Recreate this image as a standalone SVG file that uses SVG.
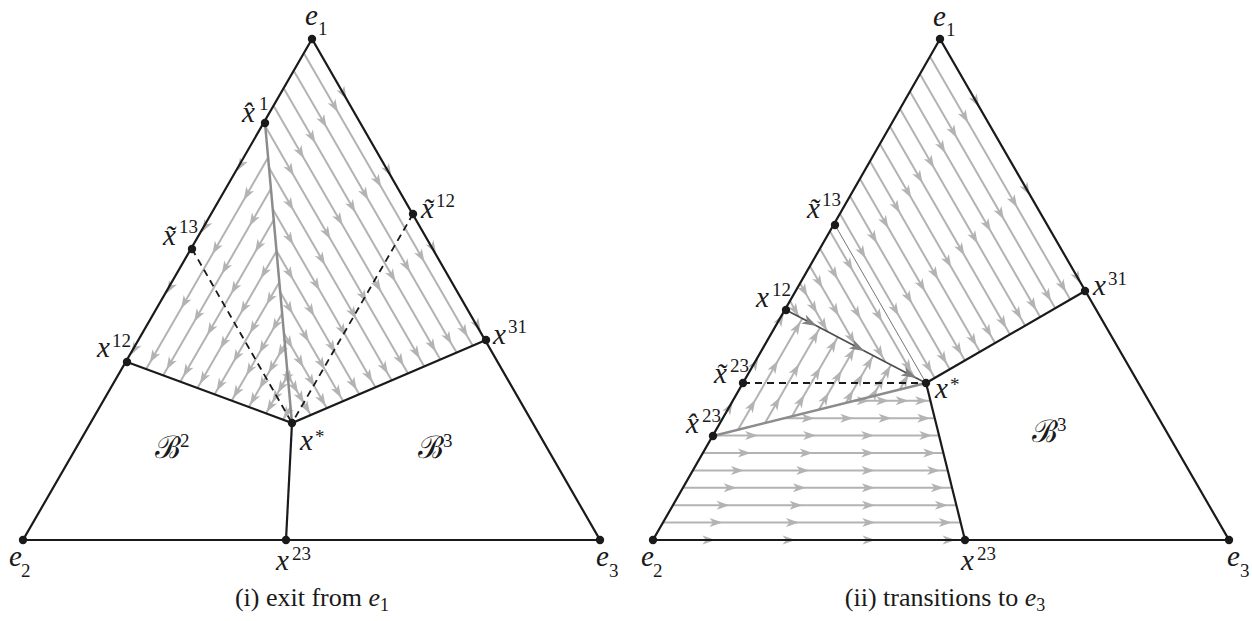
<svg xmlns="http://www.w3.org/2000/svg" width="1252" height="621" viewBox="0 0 1252 621">
<style>
.f{fill:none;stroke:#b3b3b3;stroke-width:2;marker-mid:url(#ga)}
.fe{fill:none;stroke:none;marker-mid:url(#ga)}
.k{fill:none;stroke:#1a1a1a;stroke-width:2.2;stroke-linejoin:miter}
.g{fill:none;stroke:#8c8c8c;stroke-width:2.5}
.d{fill:none;stroke:#1a1a1a;stroke-width:1.8;stroke-dasharray:7 5}
.t{fill:none;stroke:#666;stroke-width:0.9}
.dot{fill:#1a1a1a}
text{font-family:"Liberation Serif","Times New Roman",serif;fill:#1a1a1a}
.m{font-size:29px;font-style:italic}
.s{font-size:19px}
.cap{font-size:26px}
.cal{font-family:"DejaVu Serif",serif;font-size:31px;font-style:normal}
</style>
<defs>
<marker id="ga" viewBox="-14 -6 16 12" markerWidth="16" markerHeight="12" refX="0" refY="0" orient="auto" markerUnits="userSpaceOnUse"><path d="M0,0 L-13,-4.5 L-9.5,0 L-13,4.5 Z" fill="#b3b3b3"/></marker>
<marker id="da" viewBox="-16 -7 18 14" markerWidth="18" markerHeight="14" refX="0" refY="0" orient="auto" markerUnits="userSpaceOnUse"><path d="M0,0 L-15,-5 L-11,0 L-15,5 Z" fill="#808080"/></marker>
</defs>

<g id="flows-left">
<polyline class="fe" points="312,39 346.8,99.2 391.5,176.6 436.1,253.6 480.8,331 486,340"/>
<polyline class="f" points="304.3,53.9 338.0,112.3 381.3,187.3 424.4,261.9 467.7,336.9 472.8,345.7"/>
<polyline class="f" points="294.2,71.4 326.7,127.6 368.4,199.9 410.0,271.9 451.7,344.2 456.6,352.6"/>
<polyline class="f" points="284.1,88.9 315.4,143.0 355.5,212.6 395.5,281.8 435.7,351.4 440.4,359.5"/>
<polyline class="f" points="274,106.4 304.0,158.4 342.6,225.2 381.1,291.8 419.7,358.6 424.2,366.4"/>
<polyline class="f" points="265.3,126.3 293.8,175.7 330.5,239.2 367.0,302.5 403.7,366.0 408,373.4"/>
<polyline class="f" points="269,167.7 293.5,210.2 325.1,264.9 356.5,319.3 388.0,373.9 391.7,380.3"/>
<polyline class="f" points="272.8,209.2 293.3,244.8 319.7,290.6 346.0,336.2 372.4,381.9 375.5,387.3"/>
<polyline class="f" points="276.5,250.7 293.1,279.4 314.3,316.3 335.5,353.0 356.8,389.9 359.3,394.2"/>
<polyline class="f" points="280.2,292.1 292.8,313.9 308.9,341.9 325.0,369.8 341.2,397.8 343.1,401.1"/>
<polyline class="f" points="284,333.6 292.6,348.5 303.6,367.6 314.6,386.7 325.6,405.9 326.9,408.1"/>
<polyline class="f" points="287.7,375 292.3,383 298.2,393.3 304.1,403.5 310,413.8 310.7,415"/>
<polyline class="fe" points="265,123 237.4,170.8 201.9,232.2 166.6,293.4 131.1,354.8 127,362"/>
<polyline class="f" points="268.1,157.6 243.7,199.9 212.3,254.3 181.1,308.4 149.8,362.8 146.1,369.1"/>
<polyline class="f" points="270.9,188.8 249.4,226.1 221.7,274.1 194.1,321.8 166.4,369.8 163.2,375.4"/>
<polyline class="f" points="273.7,220 255.0,252.3 231.0,293.9 207.1,335.3 183.1,376.8 180.3,381.7"/>
<polyline class="f" points="276.5,251.2 260.7,278.6 240.4,313.7 220.1,348.7 199.8,383.9 197.4,388"/>
<polyline class="f" points="279.3,282.3 266.4,304.7 249.7,333.5 233.2,362.2 216.5,391.0 214.6,394.4"/>
<polyline class="f" points="282.1,313.4 272.0,330.9 259.1,353.3 246.2,375.6 233.2,398.1 231.7,400.7"/>
<polyline class="f" points="284.9,344.6 277.7,357.1 268.4,373.1 259.2,389.1 249.9,405.1 248.8,407"/>
<polyline class="f" points="287.7,375.8 283.3,383.3 277.7,393.0 272.2,402.6 266.6,412.3 265.9,413.4"/>
<polyline class="f" points="290.5,406.9 283.4,419.0 283,419.7"/>
</g>

<g id="flows-right">
<polyline class="fe" points="940,39 979.2,107 1029.9,195.2 1080.7,283.4 1085,291"/>
<polyline class="f" points="930.5,57.4 968.2,122.8 1017.2,207.5 1066.1,292.2 1070.3,299.5"/>
<polyline class="f" points="920.4,74.8 956.8,137.8 1004.0,219.6 1051.2,301.3 1055.2,308.3"/>
<polyline class="f" points="910.4,92.2 945.4,152.9 990.9,231.6 1036.3,310.3 1040.2,317"/>
<polyline class="f" points="900.4,109.6 934.1,167.9 977.7,243.6 1021.4,319.2 1025.1,325.7"/>
<polyline class="f" points="890.3,127 922.6,183.0 964.5,255.6 1006.4,328.2 1010,334.4"/>
<polyline class="f" points="880.3,144.4 911.3,198.0 951.4,267.6 991.6,337.1 995,343.1"/>
<polyline class="f" points="870.3,161.8 899.9,213.1 938.2,279.6 976.6,346.1 979.9,351.8"/>
<polyline class="f" points="860.2,179.2 888.5,228.2 925.1,291.6 961.8,355.1 964.9,360.5"/>
<polyline class="f" points="850.2,196.6 877.1,243.2 912.0,303.6 946.8,364.0 949.8,369.2"/>
<polyline class="f" points="840.1,214 865.6,258.3 898.8,315.7 931.9,373.1 934.7,378"/>
<polyline class="f" points="830.1,231.4 852.7,270.6 882.1,321.5 911.4,372.3 913.9,376.7"/>
<polyline class="f" points="820.1,248.8 837.7,279.3 860.5,318.8 883.2,358.3 885.2,361.7"/>
<polyline class="f" points="810,266.2 822.5,287.9 838.8,316.1 855.0,344.3 856.4,346.7"/>
<polyline class="f" points="800,283.6 807.5,296.6 817.2,313.5 826.9,330.4 827.7,331.8"/>
<polyline class="f" points="790,301 798.6,316.2 798.9,316.7"/>
<polyline class="fe" points="713,436 732.7,402.0 758.3,357.9 783.8,313.8 786,310"/>
<polyline class="f" points="738,429.8 755.4,399.8 777.9,360.8 800.4,321.8 802.3,318.5"/>
<polyline class="f" points="765,423.1 779.9,397.3 799.1,363.9 818.4,330.6 820,327.7"/>
<polyline class="f" points="791.9,416.4 804.3,395.0 820.4,367.2 836.4,339.4 837.8,337"/>
<polyline class="f" points="818.9,409.7 828.8,392.6 841.6,370.4 854.4,348.2 855.5,346.3"/>
<polyline class="f" points="845.9,402.9 853.3,390.1 862.9,373.5 872.5,356.9 873.3,355.5"/>
<polyline class="f" points="872.8,396.2 877.7,387.7 884.1,376.7 890.5,365.7 891,364.8"/>
<polyline class="f" points="899.8,389.5 908.5,374.5 908.8,374"/>
<polyline class="fe" points="653,540 715.4,540 795.6,540 875.5,540 955.6,540 965,540"/>
<polyline class="f" points="662.9,522.6 722.5,522.6 799,522.6 875.2,522.6 951.8,522.6 960.7,522.6"/>
<polyline class="f" points="672.9,505.2 729.6,505.2 802.5,505.2 875,505.2 947.9,505.2 956.4,505.2"/>
<polyline class="f" points="682.9,487.8 736.7,487.8 805.9,487.8 874.8,487.8 943.9,487.8 952,487.8"/>
<polyline class="f" points="692.9,470.4 743.9,470.4 809.3,470.4 874.6,470.4 940.1,470.4 947.7,470.4"/>
<polyline class="f" points="702.8,453 750.9,453 812.8,453 874.3,453 936.2,453 943.4,453"/>
<polyline class="f" points="712.8,435.6 758.1,435.6 816.2,435.6 874.2,435.6 932.3,435.6 939.1,435.6"/>
<polyline class="f" points="784.6,418.2 814.6,418.2 853.2,418.2 891.6,418.2 930.2,418.2 934.7,418.2"/>
<polyline class="f" points="854.5,400.8 869.7,400.8 889.2,400.8 908.6,400.8 928.1,400.8 930.4,400.8"/>
</g>

<g id="connectors">
<line class="g" x1="265" y1="123" x2="292" y2="423"/>
<line class="d" x1="192" y1="249" x2="292" y2="423"/>
<line class="d" x1="413" y1="214" x2="292" y2="423"/>
<polygon class="k" points="312,39 23,540 600,540"/>
<polyline class="k" points="127,362 292,423 486,340"/>
<line class="k" x1="292" y1="423" x2="286" y2="540"/>
<line class="g" x1="713" y1="436" x2="926" y2="383"/>
<line class="t" x1="835" y1="225" x2="926" y2="383"/>
<line class="d" x1="743" y1="383" x2="926" y2="383"/>
<polyline fill="none" stroke="#4d4d4d" stroke-width="1.7" marker-mid="url(#da)" points="786,310 816.8,326.1 864.4,350.9 916.2,377.9 926,383"/>
<polygon class="k" points="940,39 653,540 1229,540"/>
<line class="k" x1="926" y1="383" x2="1085" y2="291"/>
<line class="k" x1="926" y1="383" x2="965" y2="540"/>
</g>

<g id="L-e1"><circle class="dot" cx="312" cy="39" r="4.2"/><text class="m" x="305" y="25">e</text><text class="s" x="318" y="35">1</text></g>
<g id="L-e2"><circle class="dot" cx="23" cy="540" r="4.2"/><text class="m" x="9" y="566">e</text><text class="s" x="21" y="577">2</text></g>
<g id="L-e3"><circle class="dot" cx="600" cy="540" r="4.2"/><text class="m" x="596" y="566">e</text><text class="s" x="609" y="577">3</text></g>
<g id="L-xhat1"><circle class="dot" cx="265" cy="123" r="4.2"/><text class="m" x="242" y="122">x&#x302;</text><text class="s" x="259" y="110">1</text></g>
<g id="L-xtilde13"><circle class="dot" cx="192" cy="249" r="4.2"/><text class="m" x="163" y="245">x&#x303;</text><text class="s" x="179" y="233">13</text></g>
<g id="L-xtilde12"><circle class="dot" cx="413" cy="214" r="4.2"/><text class="m" x="421" y="218">x&#x303;</text><text class="s" x="436" y="207">12</text></g>
<g id="L-x12"><circle class="dot" cx="127" cy="362" r="4.2"/><text class="m" x="97" y="357">x</text><text class="s" x="112" y="347">12</text></g>
<g id="L-x31"><circle class="dot" cx="486" cy="340" r="4.2"/><text class="m" x="493" y="344">x</text><text class="s" x="508" y="333">31</text></g>
<g id="L-xstar"><circle class="dot" cx="292" cy="423" r="4.2"/><text class="m" x="300" y="450">x</text><text class="s" x="315" y="443">*</text></g>
<g id="L-x23"><circle class="dot" cx="286" cy="540" r="4.2"/><text class="m" x="276" y="570">x</text><text class="s" x="292" y="560">23</text></g>
<g id="L-B2"><text class="cal" x="155" y="458">ℬ</text><text class="s" x="180" y="447">2</text></g>
<g id="L-B3"><text class="cal" x="418" y="458">ℬ</text><text class="s" x="443" y="447">3</text></g>

<g id="R-e1"><circle class="dot" cx="940" cy="39" r="4.2"/><text class="m" x="933" y="26">e</text><text class="s" x="946" y="36">1</text></g>
<g id="R-e2"><circle class="dot" cx="653" cy="540" r="4.2"/><text class="m" x="641" y="566">e</text><text class="s" x="653" y="577">2</text></g>
<g id="R-e3"><circle class="dot" cx="1229" cy="540" r="4.2"/><text class="m" x="1227" y="566">e</text><text class="s" x="1240" y="577">3</text></g>
<g id="R-xtilde13"><circle class="dot" cx="835" cy="225" r="4.2"/><text class="m" x="807" y="218">x&#x303;</text><text class="s" x="822" y="206">13</text></g>
<g id="R-x12"><circle class="dot" cx="786" cy="310" r="4.2"/><text class="m" x="756" y="307">x</text><text class="s" x="772" y="296">12</text></g>
<g id="R-xtilde23"><circle class="dot" cx="743" cy="383" r="4.2"/><text class="m" x="714" y="383">x&#x303;</text><text class="s" x="730" y="372">23</text></g>
<g id="R-xhat23"><circle class="dot" cx="713" cy="436" r="4.2"/><text class="m" x="686" y="433">x&#x302;</text><text class="s" x="702" y="422">23</text></g>
<g id="R-xstar"><circle class="dot" cx="926" cy="383" r="4.2"/><text class="m" x="935" y="398">x</text><text class="s" x="950" y="391">*</text></g>
<g id="R-x31"><circle class="dot" cx="1085" cy="291" r="4.2"/><text class="m" x="1093" y="295">x</text><text class="s" x="1108" y="285">31</text></g>
<g id="R-x23"><circle class="dot" cx="965" cy="540" r="4.2"/><text class="m" x="961" y="570">x</text><text class="s" x="977" y="560">23</text></g>
<g id="R-B3"><text class="cal" x="1032" y="442">ℬ</text><text class="s" x="1057" y="431">3</text></g>

<g id="captions">
<text class="cap" x="312" y="606" text-anchor="middle">(i) exit from <tspan font-style="italic">e</tspan><tspan font-size="18" dy="5">1</tspan></text>
<text class="cap" x="945" y="606" text-anchor="middle">(ii) transitions to <tspan font-style="italic">e</tspan><tspan font-size="18" dy="5">3</tspan></text>
</g>
</svg>
